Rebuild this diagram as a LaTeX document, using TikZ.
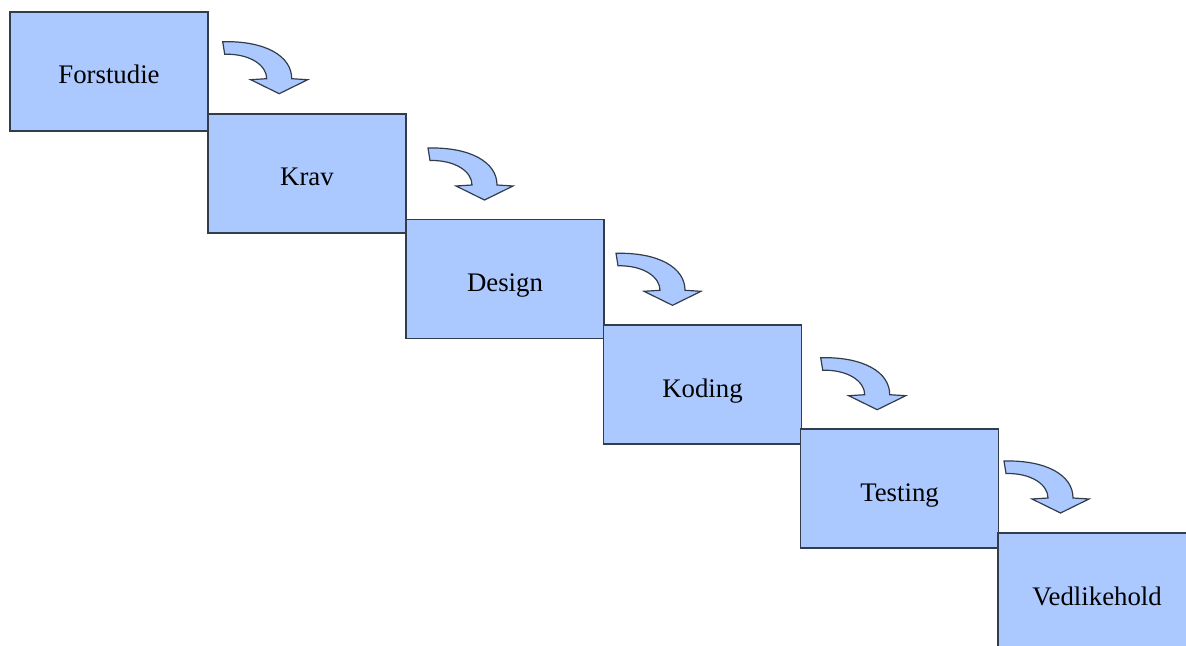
\documentclass[tikz,border=0pt]{standalone}
\usepackage{fontspec}
\setmainfont{Liberation Serif}
\definecolor{phasefill}{RGB}{172,201,255}
\definecolor{phaseline}{RGB}{50,60,75}

\begin{document}
\begin{tikzpicture}[x=0.5pt, y=-0.5pt,
    phasebox/.style={draw=phaseline, line width=0.8pt, fill=phasefill,
                     minimum width=99pt, minimum height=59.5pt, inner sep=0pt,
                     text height=12.5pt, text depth=0pt, font=\fontsize{13.4}{15}\selectfont},
    bentarrow/.style={draw=phaseline, line width=0.6pt, fill=phasefill, line join=miter}
]
    \useasboundingbox (0,0) rectangle (1186,646);
    \clip (0,0) rectangle (1186,646);

    \node[phasebox] (forstudie)   at (109,71.5)   {Forstudie};
    \node[phasebox] (krav)        at (307,173.5)  {Krav};
    \node[phasebox] (design)      at (505,279)    {Design};
    \node[phasebox] (koding)      at (702.5,384.5) {Koding};
    \node[phasebox] (testing)     at (899.5,488.5) {Testing};
    \node[phasebox] (vedlikehold) at (1097,592.5) {Vedlikehold};

    % curved arrows between the phases, tail corner given
    \foreach \x/\y in {222.7/41.7, 428/148, 616/253.3, 820.7/357.7, 1004/461}
        \draw[bentarrow, shift={(\x,\y)}]
            (0,0) .. controls (42,-1) and (69,14) .. (69,37)
            -- (85,38) -- (56.5,52) -- (28,38) -- (44,37)
            .. controls (44,24) and (28,12) .. (2,12.5) -- cycle;
\end{tikzpicture}
\end{document}
